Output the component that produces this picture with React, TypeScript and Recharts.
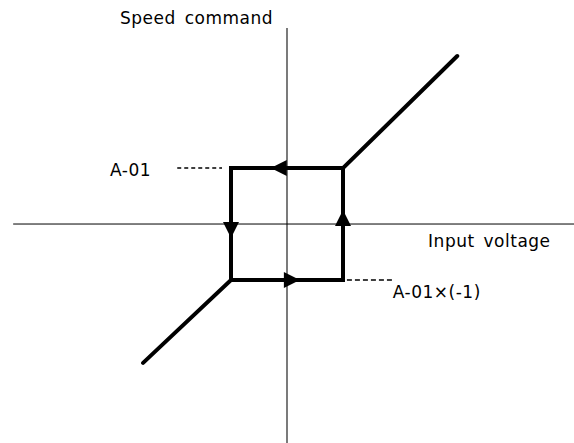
import React from 'react';
import { ComposedChart, Line, Scatter, XAxis, YAxis, ReferenceLine, ReferenceDot } from 'recharts';

// units: the hysteresis level A-01 is 1
const xDomain = [-5.125, 5.125];
const yDomain = [-3.91, 4];

// thick characteristic: rising branch (lower diagonal, bottom, right side, upper diagonal)
const risingBranch = [
  { x: -2.57, y: -2.48 },
  { x: -1, y: -1 },
  { x: 1, y: -1 },
  { x: 1, y: 1 },
  { x: 3.04, y: 3.0 },
];
// falling branch (top, left side)
const fallingBranch = [
  { x: 1, y: 1 },
  { x: -1, y: 1 },
  { x: -1, y: -1 },
];

// arrow heads: tip position and direction
const arrows = [
  { x: -0.29, y: 1, dir: 'left' },
  { x: -1, y: -0.25, dir: 'down' },
  { x: 0.23, y: -1, dir: 'right' },
  { x: 1, y: 0.25, dir: 'up' },
];

const axisY = { top: 3.5 };
const axisX = { left: -4.89 };

const dashTop = [{ x: -1.96, y: 1 }, { x: -1.16, y: 1 }];
const dashBottom = [{ x: 1.07, y: -1 }, { x: 1.89, y: -1 }];

const labels = [
  { text: 'Speed command', x: -0.25, y: 3.57, anchor: 'end' },
  { text: 'A-01', x: -3.16, y: 0.86, anchor: 'start' },
  { text: 'Input voltage', x: 2.52, y: -0.41, anchor: 'start' },
  { text: 'A-01×(-1)', x: 1.89, y: -1.32, anchor: 'start' },
];

const FONT = '"DejaVu Sans", Verdana, sans-serif';

const Arrow = (props: any) => {
  const { cx, cy, payload } = props;
  const L = 16;
  const W = 8;
  let pts = '';
  if (payload.dir === 'left') pts = `${cx},${cy} ${cx + L},${cy - W} ${cx + L},${cy + W}`;
  if (payload.dir === 'right') pts = `${cx},${cy} ${cx - L},${cy - W} ${cx - L},${cy + W}`;
  if (payload.dir === 'up') pts = `${cx},${cy} ${cx - W},${cy + L} ${cx + W},${cy + L}`;
  if (payload.dir === 'down') pts = `${cx},${cy} ${cx - W},${cy - L} ${cx + W},${cy - L}`;
  return <polygon points={pts} fill="#000" />;
};

const App = () => {
  return (
    <div style={{ position: 'absolute', left: 0, top: 0, width: 574, height: 443, background: '#fff' }}>
      <ComposedChart width={574} height={443} margin={{ top: 0, right: 0, bottom: 0, left: 0 }}>
        <XAxis type="number" dataKey="x" domain={xDomain} hide allowDataOverflow />
        <YAxis type="number" dataKey="y" domain={yDomain} hide allowDataOverflow />

        <ReferenceLine
          segment={[{ x: 0, y: axisY.top }, { x: 0, y: yDomain[0] }]}
          stroke="#222"
          strokeWidth={1.2}
        />
        <ReferenceLine
          segment={[{ x: axisX.left, y: 0 }, { x: xDomain[1], y: 0 }]}
          stroke="#000"
          strokeWidth={1}
        />
        <ReferenceLine segment={dashTop} stroke="#000" strokeWidth={1.5} strokeDasharray="4 3" />
        <ReferenceLine segment={dashBottom} stroke="#000" strokeWidth={1.5} strokeDasharray="5 3" />

        <Line
          data={risingBranch}
          dataKey="y"
          type="linear"
          stroke="#000"
          strokeWidth={4}
          strokeLinecap="round"
          strokeLinejoin="miter"
          dot={false}
          activeDot={false}
          isAnimationActive={false}
        />
        <Line
          data={fallingBranch}
          dataKey="y"
          type="linear"
          stroke="#000"
          strokeWidth={4}
          strokeLinecap="square"
          strokeLinejoin="miter"
          dot={false}
          activeDot={false}
          isAnimationActive={false}
        />
        <Scatter data={arrows} dataKey="y" shape={<Arrow />} isAnimationActive={false} />

        {labels.map((l) => (
          <ReferenceDot
            key={l.text}
            x={l.x}
            y={l.y}
            r={0}
            shape={(p: any) => (
              <text
                x={p.cx}
                y={p.cy}
                textAnchor={l.anchor}
                fontFamily={FONT}
                fontSize={17}
                letterSpacing={0.5}
                wordSpacing={3}
                fill="#000"
              >
                {l.text}
              </text>
            )}
          />
        ))}
      </ComposedChart>
    </div>
  );
};

export default App;
